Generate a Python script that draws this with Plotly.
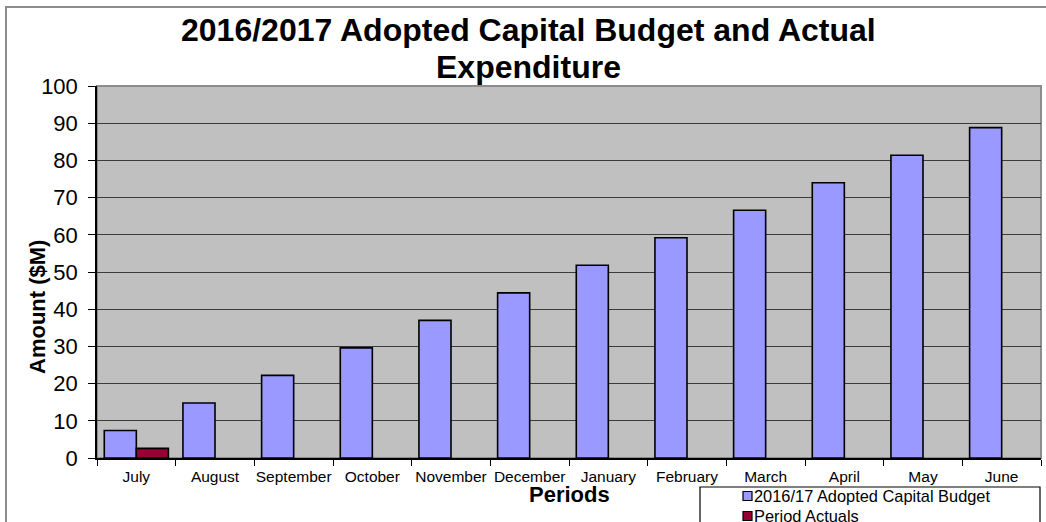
import plotly.graph_objects as go

months = ["July", "August", "September", "October", "November", "December",
          "January", "February", "March", "April", "May", "June"]
budget = [7.4, 14.8, 22.2, 29.6, 37.0, 44.4, 51.8, 59.2, 66.6, 74.0, 81.4, 88.8]
actuals = [2.6, None, None, None, None, None, None, None, None, None, None, None]
y_ticks = [0, 10, 20, 30, 40, 50, 60, 70, 80, 90, 100]

title_lines = ["2016/2017 Adopted Capital Budget and Actual", "Expenditure"]
series_names = ["2016/17 Adopted Capital Budget", "Period Actuals"]
series_colors = ["#9999FF", "#990033"]

FONT = "Liberation Sans, Arial, sans-serif"

W, H = 1046, 522
L, R, T, B = 97, 5, 86, 64
PW, PH = W - L - R, H - T - B


def px_x(x):
    return (x - L) / PW


def px_y(y):
    return (H - B - y) / PH


fig = go.Figure()
for name, vals, color in zip(series_names, [budget, actuals], series_colors):
    fig.add_trace(go.Bar(
        x=months, y=vals, name=name,
        marker=dict(color=color, line=dict(color="#000000", width=1.6)),
    ))

shapes = [
    # outer chart frame
    dict(type="rect", xref="paper", yref="paper",
         x0=px_x(6), x1=px_x(1100), y0=px_y(600), y1=px_y(7),
         line=dict(color="#8C8C8C", width=2), layer="below"),
    # plot area frame
    dict(type="rect", xref="paper", yref="paper",
         x0=0, x1=1, y0=0, y1=1,
         line=dict(color="#8C8C8C", width=2), layer="below"),
    # legend box
    dict(type="rect", xref="paper", yref="paper",
         x0=px_x(700), x1=px_x(1040), y0=px_y(560), y1=px_y(487),
         line=dict(color="#000000", width=1.2), fillcolor="white",
         layer="above"),
]

annotations = [
    dict(text="<b>Amount ($M)</b>", xref="paper", yref="paper",
         x=px_x(37), y=px_y(307), textangle=-90, showarrow=False,
         xanchor="center", yanchor="middle",
         font=dict(size=22, family=FONT, color="#000000")),
    dict(text="<b>Periods</b>", xref="paper", yref="paper",
         x=px_x(569), y=px_y(495), showarrow=False,
         xanchor="center", yanchor="middle",
         font=dict(size=22, family=FONT, color="#000000")),
]

# two-line chart title
for line, yc in zip(title_lines, [30, 67]):
    annotations.append(dict(
        text=f"<b>{line}</b>", xref="paper", yref="paper",
        x=px_x(528), y=px_y(yc), showarrow=False,
        xanchor="center", yanchor="middle",
        font=dict(size=32, family=FONT, color="#000000")))

# legend entries: swatch + label
for i, (name, color) in enumerate(zip(series_names, series_colors)):
    yc = 496 + 20 * i
    shapes.append(dict(
        type="rect", xref="paper", yref="paper",
        x0=px_x(743), x1=px_x(752), y0=px_y(yc + 4.5), y1=px_y(yc - 4.5),
        line=dict(color="#000000", width=1.2), fillcolor=color, layer="above"))
    annotations.append(dict(
        text=name, xref="paper", yref="paper",
        x=px_x(752), y=px_y(yc), showarrow=False,
        xanchor="left", yanchor="middle",
        font=dict(size=16.4, family=FONT, color="#000000")))

fig.update_layout(
    width=W, height=H,
    margin=dict(l=L, r=R, t=T, b=B, autoexpand=False),
    paper_bgcolor="white",
    plot_bgcolor="#C0C0C0",
    barmode="group", bargap=0.185, bargroupgap=0,
    font=dict(family=FONT, color="#000000"),
    showlegend=False,
    xaxis=dict(
        tickfont=dict(size=15.5, family=FONT),
        tickangle=0,
        ticks="outside", ticklen=6, tickcolor="#000000", tickwidth=1.2,
        tickson="boundaries",
        ticklabelstandoff=4,
        showline=True, linecolor="#000000", linewidth=1.5,
        showgrid=False,
    ),
    yaxis=dict(
        range=[0, 100], tickvals=y_ticks,
        tickfont=dict(size=22, family=FONT),
        ticks="outside", ticklen=7, tickcolor="#000000", tickwidth=1.2,
        ticklabelstandoff=6,
        showline=True, linecolor="#000000", linewidth=1.5,
        showgrid=True, gridcolor="#3C3C3C", gridwidth=1.3,
        zeroline=False,
    ),
    shapes=shapes,
    annotations=annotations,
)

fig.write_html("out.html")
